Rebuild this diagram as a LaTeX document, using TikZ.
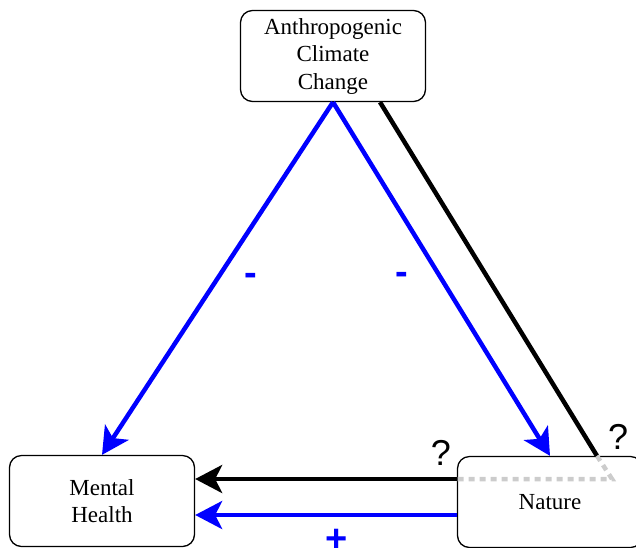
\documentclass[tikz,border=0pt]{standalone}
\usepackage{fontspec}
\setmainfont{Liberation Serif}
\newfontfamily\signfont{Liberation Sans}
\usetikzlibrary{arrows.meta}

\begin{document}
\begin{tikzpicture}[x=1pt, y=-1pt,
    box/.style={draw, line width=1.3pt, rounded corners=12pt, minimum width=185pt, minimum height=91pt, align=center, font=\fontsize{23}{27.5}\selectfont},
    link/.style={line width=4.5pt, -{Stealth[length=27pt, width=28pt, inset=7pt]}},
    sign/.style={anchor=base, inner sep=0pt, font=\signfont\bfseries\fontsize{38}{38}\selectfont},
    ask/.style={anchor=base, inner sep=0pt, font=\signfont\fontsize{36}{36}\selectfont}]
    \clip (0,0) rectangle (636,547);
    \node[box] (acc) at (333,56) {Anthropogenic\\Climate\\Change};
    \node[box] (mh) at (102,501) {Mental\\Health};
    \node[box] (nat) at (550,502) {Nature};
    \coordinate (kink) at ([xshift=47pt]nat.north);
    \coordinate (bend) at (612,479);
    \coordinate (pass) at ([yshift=23pt]nat.west);
    \draw[link, blue] (acc.south) -- (mh.north);
    \draw[link, blue] (acc.south) -- (nat.north);
    \draw[line width=4.5pt] ([xshift=47pt]acc.south) -- (kink);
    \draw[line width=4.5pt, black!20, dash pattern=on 6pt off 5pt] (kink) -- (bend) -- (pass);
    \draw[link] (pass) -- (pass -| mh.east);
    \draw[link, blue] ([yshift=-13pt]nat.west) -- ([yshift=-13pt]nat.west -| mh.east);
    \node[sign, blue] (minusl) at (250.5,285) {-};
    \node[sign, blue] (minusr) at (401.5,284.5) {-};
    \node[sign, blue] (plus) at (337,551) {+};
    \node[ask] (askl) at (441,465) {?};
    \node[ask] (askr) at (618,449) {?};
\end{tikzpicture}
\end{document}
